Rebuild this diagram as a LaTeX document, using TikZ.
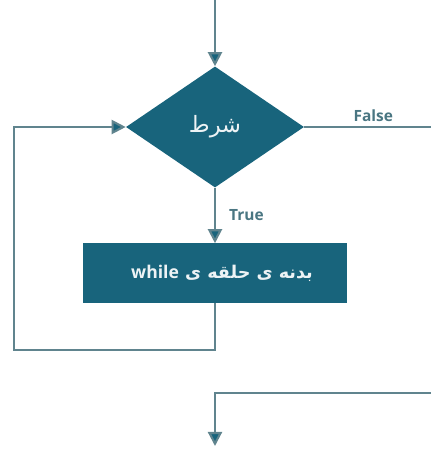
\documentclass[tikz,border=0pt]{standalone}
\usepackage{fontspec}
\setmainfont{Open Sans}
\newfontfamily\arabicfont[Script=Arabic]{DejaVu Sans}
\TeXXeTstate=1
\usetikzlibrary{shapes.geometric,arrows.meta}
\definecolor{bleucanard}{RGB}{24,100,124}
\definecolor{trait}{RGB}{96,132,142}
\definecolor{etiquette}{RGB}{74,118,130}
\tikzset{
  flux/.style={draw=trait, line width=1.5pt},
  fleche/.style={flux, -{Triangle[length=10pt,width=10pt,fill=bleucanard]}},
  boite/.style={fill=bleucanard, draw=none, text=white!92!bleucanard},
  etiq/.style={text=etiquette, font=\fontsize{11}{13}\selectfont\bfseries}
}
\begin{document}
\begin{tikzpicture}[x=0.025cm, y=-0.025cm]
    % Dimensions : 431 x 450 (en pixels de l'image)
    \def\xc{215}
    \useasboundingbox (0,0) rectangle (431,450);

    % la condition (losange)
    \node[boite, diamond, minimum width=4.45cm, minimum height=3.025cm, inner sep=0pt] (cond) at (\xc,127)
        {\arabicfont\fontsize{16}{18}\selectfont\beginR شرط\endR};

    % le corps de la boucle
    \node[boite, rectangle, minimum width=6.575cm, minimum height=1.475cm] (corps) at (\xc,273) {};
    \node[text=white!92!bleucanard, xshift=5pt] (texte) at (corps.center)
        {\fontsize{12.5}{15}\selectfont\arabicfont\bfseries\beginR بدنه ی حلقه ی \beginL{\fontspec{Open Sans}\fontsize{12.5}{15}\selectfont\bfseries while}\endL\endR};

    \coordinate (entree) at (\xc,0);
    \coordinate (retour) at (14,127);
    \coordinate (faux) at (431,127);
    \coordinate (suite) at (431,393);
    \coordinate (sortie) at (\xc,446);

    \draw[fleche] (entree) -- (cond.north);
    \draw[fleche] (cond.south) -- node[etiq, right=6pt] {True} (corps.north);
    \draw[flux] (cond.east) -- node[etiq, above, xshift=4pt] {False} (faux);

    % retour de la boucle
    \draw[fleche] (corps.south) -- ++(0,47) -| (retour) -- (cond.west);

    % sortie
    \draw[fleche] (suite) -| (sortie);
\end{tikzpicture}
\end{document}
